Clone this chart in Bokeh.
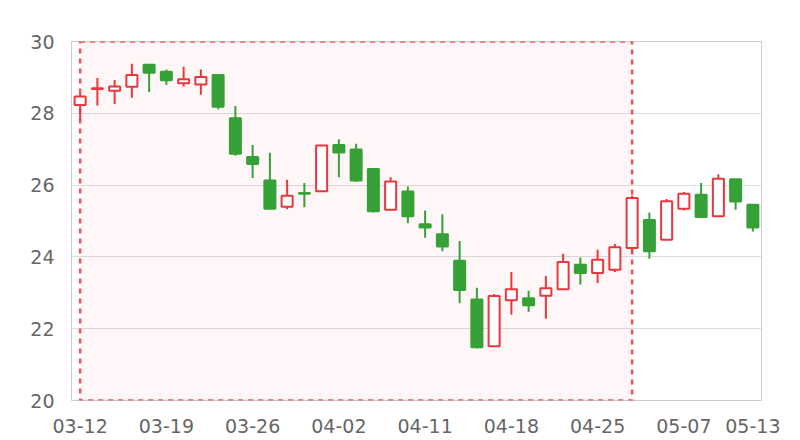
from bokeh.plotting import figure
from bokeh.models import FixedTicker, Range1d, ColumnDataSource
from bokeh.embed import file_html
from bokeh.resources import INLINE

dates = ["03-12", "03-13", "03-14", "03-15", "03-16",
         "03-19", "03-20", "03-21", "03-22", "03-23",
         "03-26", "03-27", "03-28", "03-29", "03-30",
         "04-02", "04-03", "04-04", "04-09", "04-10",
         "04-11", "04-12", "04-13", "04-16", "04-17",
         "04-18", "04-19", "04-20", "04-23", "04-24",
         "04-25", "04-26", "04-27", "05-02", "05-03",
         "05-07", "05-08", "05-09", "05-10", "05-13"]

open_ = [28.23, 28.68, 28.63, 28.74, 29.35, 29.16, 28.84, 28.80, 29.07, 27.86,
         26.78, 26.13, 25.40, 25.78, 25.83, 27.12, 26.99, 26.45, 25.31, 25.82,
         24.91, 24.63, 23.89, 22.81, 21.51, 22.79, 22.85, 22.92, 23.10, 23.78,
         23.55, 23.64, 24.25, 25.03, 24.48, 25.34, 25.73, 25.13, 26.16, 25.45]
close = [28.47, 28.70, 28.75, 29.07, 29.13, 28.92, 28.95, 29.01, 28.18, 26.87,
         26.59, 25.34, 25.70, 25.76, 27.10, 26.91, 26.13, 25.27, 26.10, 25.13,
         24.82, 24.29, 23.08, 21.48, 22.91, 23.10, 22.65, 23.13, 23.86, 23.55,
         23.92, 24.27, 25.64, 24.16, 25.55, 25.76, 25.11, 26.18, 25.54, 24.82]
high = [28.56, 28.98, 28.93, 29.38, 29.36, 29.22, 29.30, 29.22, 29.08, 28.20,
        27.12, 26.90, 26.15, 26.06, 27.12, 27.28, 27.15, 26.46, 26.22, 25.96,
        25.29, 25.19, 24.44, 23.14, 22.97, 23.58, 23.06, 23.47, 24.09, 23.98,
        24.20, 24.36, 25.71, 25.23, 25.61, 25.81, 26.06, 26.30, 26.17, 25.46]
low = [27.80, 28.22, 28.26, 28.43, 28.59, 28.79, 28.75, 28.52, 28.11, 26.82,
       26.20, 25.33, 25.33, 25.38, 25.82, 26.22, 26.09, 25.24, 25.30, 24.94,
       24.53, 24.16, 22.71, 21.45, 21.50, 22.39, 22.47, 22.28, 23.08, 23.23,
       23.27, 23.58, 24.13, 23.95, 24.47, 25.29, 25.10, 25.12, 25.31, 24.71]

y_ticks = [20, 22, 24, 26, 28, 30]
x_tick_idx = [0, 5, 10, 15, 20, 25, 30, 35, 39]
area_start, area_end = 0, 32

UP = "#e8383d"
DOWN = "#36a136"
FONT = "DejaVu Sans"

idx = list(range(len(dates)))
up = [c >= o for o, c in zip(open_, close)]
src = ColumnDataSource(dict(
    x=idx, o=open_, c=close, h=high, l=low,
    top=[max(o, c) for o, c in zip(open_, close)],
    bot=[min(o, c) for o, c in zip(open_, close)],
    col=[UP if u else DOWN for u in up],
    fill=["#ffffff" if u else DOWN for u in up],
))

p = figure(width=792, height=440, output_backend="svg", toolbar_location=None,
           x_range=Range1d(-0.5, len(dates) - 0.5), y_range=Range1d(20, 30),
           min_border_left=71, min_border_right=31, min_border_top=41, min_border_bottom=40)

p.background_fill_color = "#ffffff"
p.border_fill_color = "#ffffff"
p.outline_line_color = "#cccccc"
p.outline_line_width = 1

# mark area
p.quad(left=[area_start], right=[area_end], bottom=[y_ticks[0]], top=[y_ticks[-1]],
       fill_color="#ff0000", fill_alpha=0.03,
       line_color="#ef5257", line_width=2.5, line_dash="5 5")

p.segment(x0="x", y0="h", x1="x", y1="l", source=src, line_color="col", line_width=2)
p.vbar(x="x", top="top", bottom="bot", width=0.64, source=src,
       fill_color="fill", line_color="col", line_width=2)

p.xgrid.visible = False
p.ygrid.grid_line_color = "#dddddd"
p.ygrid.ticker = FixedTicker(ticks=y_ticks)

p.yaxis.ticker = FixedTicker(ticks=y_ticks)
p.xaxis.ticker = FixedTicker(ticks=x_tick_idx)
p.xaxis.major_label_overrides = {i: dates[i] for i in x_tick_idx}

for ax in (p.xaxis, p.yaxis):
    ax.axis_line_color = None
    ax.major_tick_line_color = None
    ax.minor_tick_line_color = None
    ax.major_tick_out = 0
    ax.major_tick_in = 0
    ax.major_label_text_font = FONT
    ax.major_label_text_font_size = "19px"
    ax.major_label_text_color = "#666666"

p.yaxis.major_label_standoff = 17
p.xaxis.major_label_standoff = 18

open("out.html", "w").write(file_html(p, INLINE))
